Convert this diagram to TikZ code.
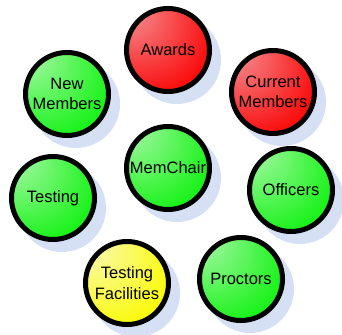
\documentclass[tikz,border=0pt]{standalone}
\usepackage{fontspec}
\setmainfont{Liberation Sans}
\definecolor{gL}{RGB}{200,250,200}
\definecolor{gD}{RGB}{25,242,25}
\definecolor{rL}{RGB}{244,175,180}
\definecolor{rD}{RGB}{250,12,12}
\definecolor{yL}{RGB}{250,250,225}
\definecolor{yD}{RGB}{250,250,12}
\definecolor{shadowblue}{RGB}{214,224,244}
\pgfdeclareradialshading{greenball}{\pgfpoint{-34bp}{34bp}}{color(0bp)=(gL); color(36bp)=(gD); color(50bp)=(gD)}
\pgfdeclareradialshading{redball}{\pgfpoint{-34bp}{34bp}}{color(0bp)=(rL); color(36bp)=(rD); color(50bp)=(rD)}
\pgfdeclareradialshading{yellowball}{\pgfpoint{-34bp}{34bp}}{color(0bp)=(yL); color(36bp)=(yD); color(50bp)=(yD)}
\tikzset{
  bub/.style={circle, draw=black, line width=5pt, minimum size=83pt, inner sep=0pt,
    align=center, text=black, font=\fontsize{16.5}{20.5}\selectfont},
  greenbub/.style={bub, shading=greenball},
  redbub/.style={bub, shading=redball},
  yellowbub/.style={bub, shading=yellowball},
  shadowdisc/.style={fill=shadowblue}
}
\begin{document}
\begin{tikzpicture}[x=1pt,y=1pt]
\useasboundingbox (0,0) rectangle (342,334);
% shadows
\foreach \p in {(168,284),(67,240),(273,242),(168,166),(53,136),(291,144),(127,51),(241,55)}{
  \fill[shadowdisc] \p ++(9,-10) circle (44);
}
\node[redbub]    (awards)   at (168,284) {Awards};
\node[greenbub]  (newmem)   at (67,240)  {New\\Members};
\node[redbub]    (curmem)   at (273,242) {Current\\Members};
\node[greenbub]  (memchair) at (168,166) {MemChair};
\node[greenbub]  (testing)  at (53,136)  {Testing};
\node[greenbub]  (officers) at (291,144) {Officers};
\node[yellowbub] (testfac)  at (127,51)  {Testing\\Facilities};
\node[greenbub]  (proctors) at (241,55)  {Proctors};
\end{tikzpicture}
\end{document}
